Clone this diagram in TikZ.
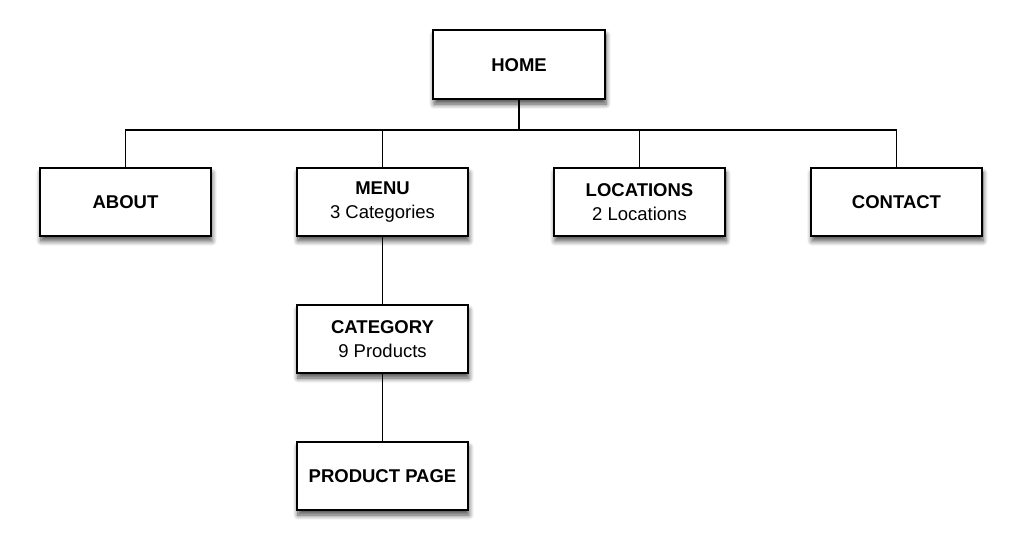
\documentclass[tikz,border=0pt]{standalone}
\usepackage{fontspec}
\setmainfont{Liberation Sans}
\usepackage{tikz}
\usetikzlibrary{positioning, calc, shadows.blur}

\begin{document}
\begin{tikzpicture}[
    page/.style={draw, line width=1.7pt, fill=white, minimum width=171pt, minimum height=68pt, align=center, inner sep=2pt,
        font=\fontsize{18.5}{24}\selectfont,
        blur shadow={shadow xshift=1pt, shadow yshift=-5pt, shadow blur radius=5pt, shadow blur steps=8, shadow opacity=70}},
    link/.style={line width=1.3pt},
    node distance=84.3pt
]
    \useasboundingbox (-382.5pt,202pt) rectangle (637.5pt,-354pt);

    % Second level
    \node[page] (menu) {\textbf{MENU}\\3 Categories};
    \node[page, left=of menu] (about) {\textbf{ABOUT}};
    \node[page, right=of menu] (locations) {\textbf{LOCATIONS}\\2 Locations};
    \node[page, right=of locations] (contact) {\textbf{CONTACT}};

    % Top
    \node[page, minimum width=172pt, minimum height=69pt, above=102pt of $(menu)!0.5!(locations)$, xshift=8pt] (home) {\textbf{HOME}};

    % Menu branch
    \node[page, below=67.3pt of menu] (category) {\textbf{CATEGORY}\\9 Products};
    \node[page, below=67.3pt of category] (product) {\textbf{PRODUCT PAGE}};

    % Links
    \coordinate (bus) at ($(home.south)+(0,-30pt)$);
    \draw[link] (home.south) -- (bus);
    \draw[link] (bus) -| (about.north);
    \draw[link] (bus) -| (menu.north);
    \draw[link] (bus) -| (locations.north);
    \draw[link] (bus) -| (contact.north);
    \draw[link] (menu) -- (category);
    \draw[link] (category) -- (product);

\end{tikzpicture}
\end{document}
